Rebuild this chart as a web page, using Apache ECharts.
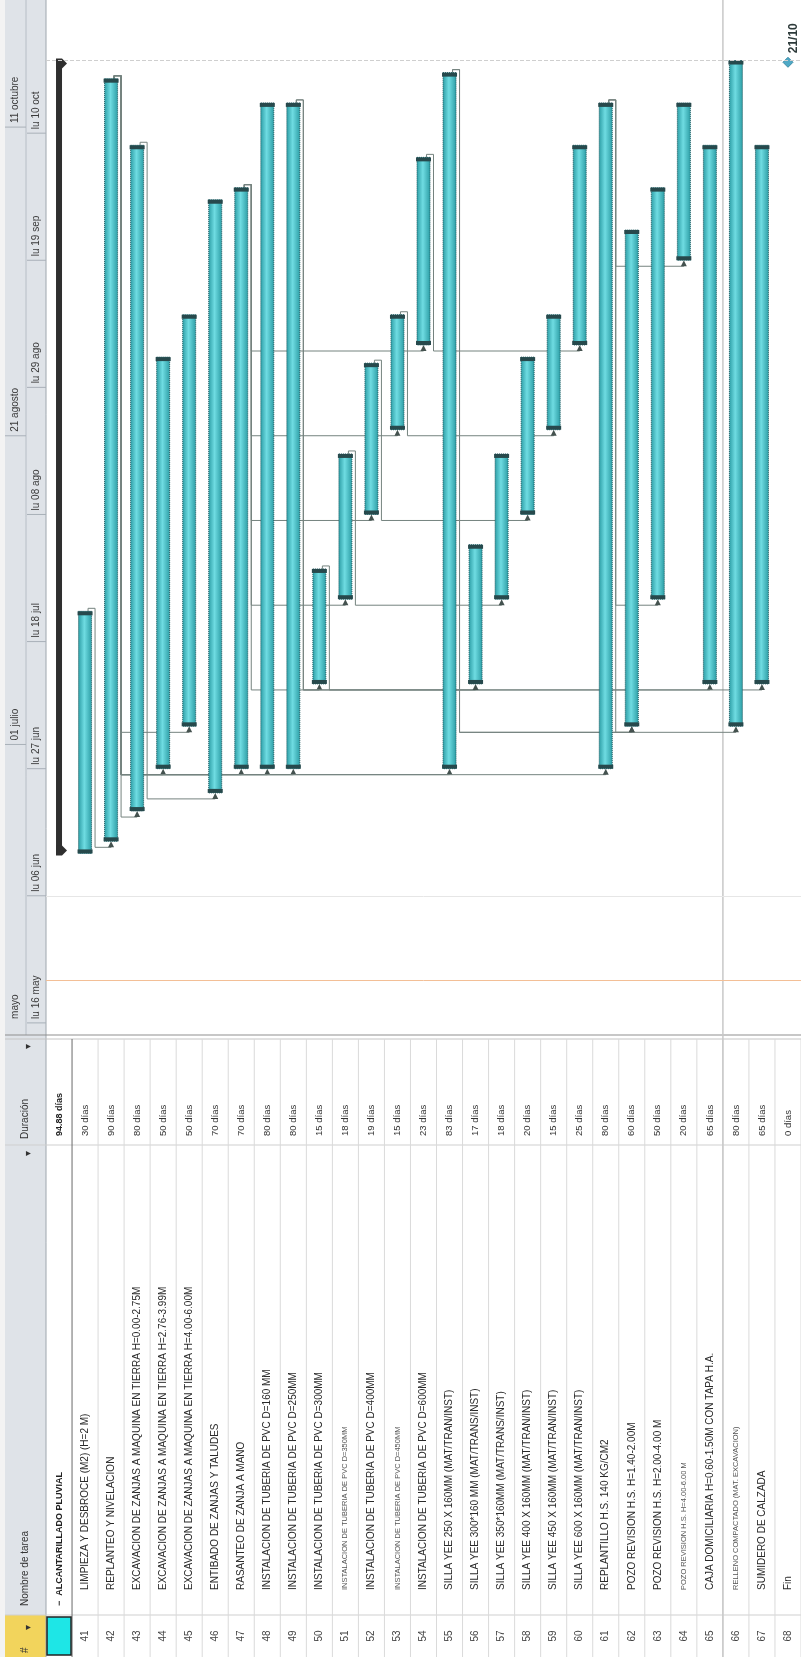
<!DOCTYPE html>
<html>
<head>
<meta charset="utf-8">
<title>Alcantarillado pluvial - Gantt</title>
<script src="https://cdn.jsdelivr.net/npm/echarts@6/dist/echarts.min.js"></script>
<style>
  html, body { margin: 0; padding: 0; background: #fff; }
  #chart { width: 801px; height: 1657px; }
</style>
</head>
<body>
<div id="chart"></div>
<script>
// filas de la tabla (resumen, tareas 41-67, hito Fin)
const rowIds = ['40','41','42','43','44','45','46','47','48','49','50','51','52','53','54',
  '55','56','57','58','59','60','61','62','63','64','65','66','67','68'];
const taskNames = [
  'ALCANTARILLADO PLUVIAL',
  'LIMPIEZA Y DESBROCE (M2) (H=2 M)',
  'REPLANTEO Y NIVELACION',
  'EXCAVACION DE ZANJAS A MAQUINA EN TIERRA H=0.00-2.75M',
  'EXCAVACION DE ZANJAS A MAQUINA EN TIERRA H=2.76-3.99M',
  'EXCAVACION DE ZANJAS A MAQUINA EN TIERRA H=4.00-6.00M',
  'ENTIBADO DE ZANJAS Y TALUDES',
  'RASANTEO DE ZANJA A MANO',
  'INSTALACION DE TUBERIA DE PVC D=160 MM',
  'INSTALACION DE TUBERIA DE PVC D=250MM',
  'INSTALACION DE TUBERIA DE PVC D=300MM',
  'INSTALACION DE TUBERIA DE PVC D=350MM',
  'INSTALACION DE TUBERIA DE PVC D=400MM',
  'INSTALACION DE TUBERIA DE PVC D=450MM',
  'INSTALACION DE TUBERIA DE PVC D=600MM',
  'SILLA YEE 250 X 160MM (MAT/TRAN/INST)',
  'SILLA YEE 300*160 MM (MAT/TRANS/INST)',
  'SILLA YEE 350*160MM (MAT/TRANS/INST)',
  'SILLA YEE 400 X 160MM (MAT/TRAN/INST)',
  'SILLA YEE 450 X 160MM (MAT/TRAN/INST)',
  'SILLA YEE 600 X 160MM (MAT/TRAN/INST)',
  'REPLANTILLO H.S. 140 KG/CM2',
  'POZO REVISION H.S. H=1.40-2.00M',
  'POZO REVISION H.S. H=2.00-4.00 M',
  'POZO REVISION H.S. H=4.00-6.00 M',
  'CAJA DOMICILIARIA H=0.60-1.50M CON TAPA H.A.',
  'RELLENO COMPACTADO (MAT. EXCAVACION)',
  'SUMIDERO DE CALZADA',
  'Fin'
];
const durations = ['94.88 días','30 días','90 días','80 días','50 días','50 días','70 días','70 días',
  '80 días','80 días','15 días','18 días','19 días','15 días','23 días','83 días','17 días','18 días',
  '20 días','15 días','25 días','80 días','60 días','50 días','20 días','65 días','80 días','65 días','0 días'];
const startDates = ['2011-06-13','2011-06-13','2011-06-15','2011-06-20','2011-06-27','2011-07-04',
  '2011-06-23','2011-06-27','2011-06-27','2011-06-27','2011-07-11','2011-07-25','2011-08-08',
  '2011-08-22','2011-09-05','2011-06-27','2011-07-11','2011-07-25','2011-08-08','2011-08-22',
  '2011-09-05','2011-06-27','2011-07-04','2011-07-25','2011-09-19','2011-07-11','2011-07-04',
  '2011-07-11','2011-10-21'];
const finishDates = ['2011-10-21','2011-07-22','2011-10-18','2011-10-07','2011-09-02','2011-09-09',
  '2011-09-28','2011-09-30','2011-10-14','2011-10-14','2011-07-29','2011-08-17','2011-09-01',
  '2011-09-09','2011-10-05','2011-10-19','2011-08-02','2011-08-17','2011-09-02','2011-09-09',
  '2011-10-07','2011-10-14','2011-09-23','2011-09-30','2011-10-14','2011-10-07','2011-10-21',
  '2011-10-07','2011-10-21'];
// vinculos predecesora -> sucesora
const linkPairs = [['41','42'],['42','43'],['42','44'],['42','45'],['42','47'],['42','48'],['42','49'],
  ['42','55'],['42','61'],['43','46'],['47','50'],['47','51'],['47','52'],['47','53'],['47','54'],
  ['49','65'],['49','67'],['50','56'],['51','57'],['52','58'],['53','59'],['54','60'],
  ['55','62'],['55','66'],['61','62'],['61','63'],['61','64']];
const milestoneLabel = '21/10';

// escala de tiempo
const tier1Ticks = ['2011-05-16','2011-07-01','2011-08-21','2011-10-11'];
const tier1Labels = ['mayo','01 julio','21 agosto','11 octubre'];
const tier2Ticks = ['2011-05-16','2011-06-06','2011-06-27','2011-07-18','2011-08-08','2011-08-29','2011-09-19','2011-10-10'];
const tier2Labels = ['lu 16 may','lu 06 jun','lu 27 jun','lu 18 jul','lu 08 ago','lu 29 ago','lu 19 sep','lu 10 oct'];
const statusDate = '2011-05-23';
const gridDates = ['2011-06-06'];
const projectEnd = '2011-10-22';

// layout
const FONT = '"Liberation Sans", Arial, sans-serif';
const H = 1657;
const GANTT_H = 1035;
const HEAD_W = 46;
const COL_NAME = 1145;
const COL_NUM = 1615;
const DUR_Y = 1136;
const NAME_Y = 1590;
const SUM_NAME_Y = 1606;
const NUM_Y = 1636;
const DAY = 86400000;
const small = ['51', '53', '64', '66'];
const t = s => Date.parse(s);

function vtext(x, y, text, o) {
  o = o || {};
  return {
    type: 'text', x: x, y: y, rotation: Math.PI / 2, silent: true,
    style: {
      text: text, fill: o.fill || '#333',
      fontSize: o.size || 10, fontFamily: FONT, fontWeight: o.weight || 'normal',
      align: o.align || 'left', verticalAlign: 'middle'
    }
  };
}

const chart = echarts.init(document.getElementById('chart'));

// filas de la tabla
function renderRow(params, api) {
  const i = api.value(0);
  const x = api.coord([i, api.value(1)])[0];
  const half = api.size([1, 0])[0] / 2;
  const kids = [];
  kids.push({ type: 'line', shape: { x1: x + half, y1: GANTT_H + 4, x2: x + half, y2: H },
    style: { stroke: i === 0 ? '#6a6a6a' : '#dadada', lineWidth: 1 } });
  if (i === 25) {
    kids.push({ type: 'line', shape: { x1: x + half, y1: 0, x2: x + half, y2: H },
      style: { stroke: '#c8c8c8', lineWidth: 1.5 } });
  }
  if (i === 0) {
    kids.push({ type: 'rect', shape: { x: x - half + 1, y: COL_NUM + 2, width: 2 * half - 2, height: H - COL_NUM - 4 },
      style: { fill: '#1ee6e6', stroke: '#222', lineWidth: 1.5 } });
    kids.push(vtext(x, SUM_NAME_Y, '\u2212  ' + taskNames[i], { size: 9, weight: 'bold', fill: '#222' }));
    kids.push(vtext(x, DUR_Y, durations[i], { size: 9, weight: 'bold', fill: '#222' }));
  } else {
    const sm = small.indexOf(rowIds[i]) >= 0;
    kids.push(vtext(x, NUM_Y, rowIds[i], { align: 'center', fill: '#444' }));
    kids.push(vtext(x, NAME_Y, taskNames[i], { size: sm ? 7.5 : 10, fill: sm ? '#555' : '#2a2a2a' }));
    kids.push(vtext(x, DUR_Y, durations[i], { size: 9.5, fill: '#333' }));
  }
  return { type: 'group', children: kids };
}

// escala de tiempo (dos niveles)
function tierRenderer(x0, x1, labels, firstSep) {
  return function (params, api) {
    const k = api.value(2);
    const y = api.coord([0, api.value(1)])[1];
    const kids = [];
    if (k > 0 || firstSep) {
      kids.push({ type: 'line', shape: { x1: x0, y1: y, x2: x1, y2: y }, style: { stroke: '#a9b0b8', lineWidth: 1 } });
    }
    kids.push(vtext((x0 + x1) / 2, y - 4, labels[k], { fill: '#3a3a3a' }));
    return { type: 'group', children: kids };
  };
}

// barras
function renderBar(params, api) {
  const i = api.value(0);
  const b = api.coord([i, api.value(1)]);
  const tp = api.coord([i, api.value(2)]);
  const x = b[0], yb = b[1], yt = tp[1];
  if (i === 0) {
    const c = '#2f2f2f';
    return { type: 'group', children: [
      { type: 'rect', shape: { x: x - 3, y: yt, width: 6, height: yb - yt }, style: { fill: c } },
      { type: 'polygon', shape: { points: [[x - 3, yt - 2], [x + 3, yt - 2], [x + 8, yt + 3], [x + 3, yt + 8], [x - 3, yt + 8]] }, style: { fill: c } },
      { type: 'polygon', shape: { points: [[x - 3, yb - 8], [x + 3, yb - 8], [x + 8, yb - 3], [x + 3, yb + 2], [x - 3, yb + 2]] }, style: { fill: c } }
    ] };
  }
  if (i === rowIds.length - 1) {
    const ym = api.coord([i, api.value(2) - 7 * 3600000])[1];
    return { type: 'group', children: [
      { type: 'polygon', shape: { points: [[x, ym - 5], [x + 5, ym], [x, ym + 5], [x - 5, ym]] },
        style: { fill: '#4fa9c6', stroke: '#3b8aa5', lineWidth: 1 } },
      vtext(x + 6, ym - 9, milestoneLabel, { size: 12, weight: 'bold', fill: '#2d3a3a' })
    ] };
  }
  const w = 13;
  const grad = new echarts.graphic.LinearGradient(0, 0, 1, 0, [
    { offset: 0, color: '#2a9ba3' }, { offset: 0.45, color: '#6fdce2' }, { offset: 1, color: '#2a9ba3' }
  ]);
  return { type: 'group', children: [
    { type: 'rect', shape: { x: x - w / 2, y: yt, width: w, height: yb - yt },
      style: { fill: grad, stroke: '#1f5a60', lineWidth: 1, lineDash: [1, 1] } },
    { type: 'rect', shape: { x: x - w / 2 - 1, y: yt, width: w + 2, height: 4 }, style: { fill: '#27494c' } },
    { type: 'rect', shape: { x: x - w / 2 - 1, y: yb - 4, width: w + 2, height: 4 }, style: { fill: '#27494c' } }
  ] };
}

// vinculos
function renderLink(params, api) {
  const a = api.coord([api.value(0), api.value(2)]);
  const b = api.coord([api.value(1), api.value(3)]);
  const xr = a[0] + 10, ya = a[1] - 3, yb = b[1] + 6;
  return { type: 'group', children: [
    { type: 'polyline', shape: { points: [[a[0] + 3, a[1] + 2], [a[0] + 3, ya], [xr, ya], [xr, yb], [b[0], yb], [b[0], b[1] + 3]] },
      style: { stroke: '#75837f', lineWidth: 1, fill: null } },
    { type: 'polygon', shape: { points: [[b[0] - 3, b[1] + 6], [b[0] + 3, b[1] + 6], [b[0], b[1]]] }, style: { fill: '#44524f' } }
  ] };
}

const barData = rowIds.map((id, i) => [i, t(startDates[i]), t(finishDates[i]) + DAY]);
const linkData = linkPairs.map(p => {
  const ia = rowIds.indexOf(p[0]), ib = rowIds.indexOf(p[1]);
  return [ia, ib, t(finishDates[ia]) + DAY, t(startDates[ib])];
});

const headerElements = [
  { type: 'rect', shape: { x: 0, y: 0, width: 5, height: H }, style: { fill: '#f3f3f3' } },
  { type: 'rect', shape: { x: 5, y: 0, width: HEAD_W - 5, height: H }, style: { fill: '#dfe3e8' } },
  { type: 'rect', shape: { x: 5, y: COL_NUM, width: HEAD_W - 5, height: H - COL_NUM }, style: { fill: '#f2d45c' } },
  { type: 'line', shape: { x1: 26, y1: 0, x2: 26, y2: GANTT_H }, style: { stroke: '#b7bec6' } },
  { type: 'line', shape: { x1: HEAD_W, y1: 0, x2: HEAD_W, y2: H }, style: { stroke: '#9ea6ae' } },
  { type: 'line', shape: { x1: 5, y1: GANTT_H, x2: 801, y2: GANTT_H }, style: { stroke: '#8f8f8f' } },
  { type: 'line', shape: { x1: 5, y1: GANTT_H + 4, x2: 801, y2: GANTT_H + 4 }, style: { stroke: '#c4c4c4' } },
  { type: 'line', shape: { x1: 5, y1: COL_NAME, x2: 801, y2: COL_NAME }, style: { stroke: '#cfcfcf' } },
  { type: 'line', shape: { x1: 5, y1: COL_NUM, x2: 801, y2: COL_NUM }, style: { stroke: '#cfcfcf' } },
  vtext(25, 1606, 'Nombre de tarea', { fill: '#333' }),
  vtext(28, 1156, '\u25BE', { fill: '#333' }),
  vtext(25, 1139, 'Duración', { fill: '#333' }),
  vtext(28, 1049, '\u25BE', { fill: '#333' }),
  vtext(25, 1653, '#', { fill: '#333' }),
  vtext(28, 1630, '\u25BE', { fill: '#333' })
];

const option = {
  animation: false,
  grid: { left: HEAD_W, top: 0, width: 757, height: GANTT_H },
  xAxis: { type: 'category', data: rowIds, show: false },
  yAxis: { type: 'time', min: t('2011-05-14'), max: t('2011-11-01'), show: false },
  graphic: { elements: headerElements },
  series: [
    { type: 'custom', name: 'tabla', renderItem: renderRow, clip: false, silent: true,
      encode: { x: 0, y: 1 }, data: rowIds.map((id, i) => [i, t('2011-06-01')]) },
    { type: 'line', name: 'lineas', data: [], silent: true,
      markLine: { silent: true, symbol: 'none', label: { show: false },
        data: [
          { yAxis: t(statusDate), lineStyle: { color: '#f3bf96', type: 'solid', width: 1 } },
          { yAxis: t(projectEnd), lineStyle: { color: '#cfcfcf', type: 'dashed', width: 1 } }
        ].concat(gridDates.map(d => ({ yAxis: t(d), lineStyle: { color: '#e6e6e6', type: 'solid', width: 1 } }))) } },
    { type: 'custom', name: 'escala2', renderItem: tierRenderer(27, HEAD_W, tier2Labels, true), clip: false, silent: true,
      encode: { x: 0, y: 1 }, data: tier2Ticks.map((d, k) => [0, t(d), k]) },
    { type: 'custom', name: 'escala1', renderItem: tierRenderer(5, 26, tier1Labels, false), clip: false, silent: true,
      encode: { x: 0, y: 1 }, data: tier1Ticks.map((d, k) => [0, t(d), k]) },
    { type: 'custom', name: 'vinculos', renderItem: renderLink, clip: false, silent: true,
      encode: { x: 0, y: [2, 3] }, data: linkData },
    { type: 'custom', name: 'barras', renderItem: renderBar, clip: false, silent: true,
      encode: { x: 0, y: [1, 2] }, data: barData }
  ]
};
chart.setOption(option);
</script>
</body>
</html>
